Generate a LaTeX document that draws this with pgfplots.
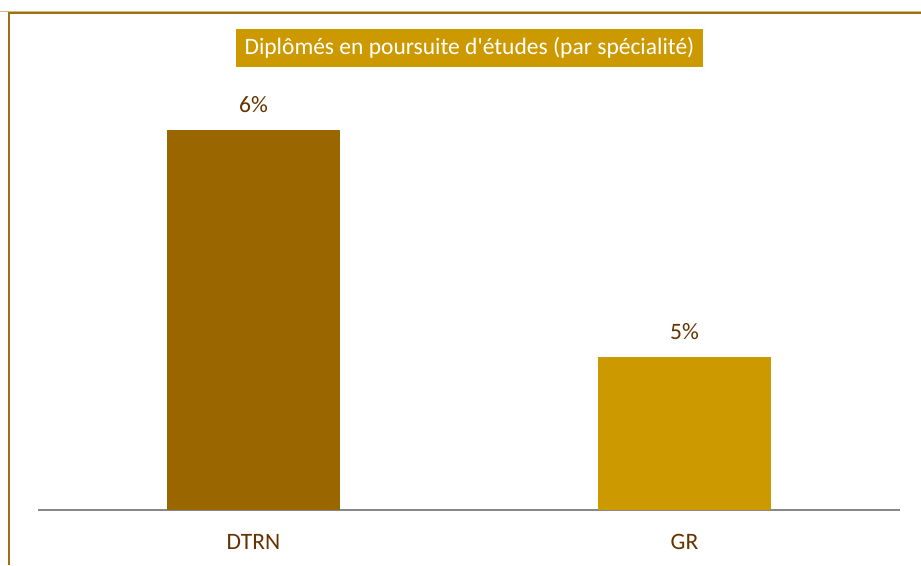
\documentclass[border=0pt]{standalone}
\usepackage{fontspec}
\setmainfont{Carlito}
\newfontfamily\plainfont{Carlito}
\usepackage{pgfplots}
\pgfplotsset{compat=1.18}
\definecolor{barDark}{HTML}{996600}
\definecolor{barGold}{HTML}{CC9900}
\definecolor{txtBrown}{HTML}{663300}
\definecolor{frameBrown}{HTML}{A07010}
\definecolor{baseGray}{HTML}{888888}

\begin{document}
\begin{tikzpicture}[x=1pt,y=1pt]
\useasboundingbox (0,0) rectangle (921,565);
\fill[white] (0,0) rectangle (921,565);
% outer frame (runs off the right and bottom edges)
\draw[frameBrown!50, line width=1pt] (0,553) -- (921,553);
\draw[frameBrown, line width=2pt] (8.5,0) -- (8.5,551.5) -- (921,551.5);

\begin{axis}[
    at={(38pt,55pt)}, anchor=south west,
    scale only axis, width=862pt, height=440pt,
    xmin=-0.5, xmax=1.5, ymin=4.326, ymax=6.264,
    ybar, bar width=173pt, bar shift=0pt,
    axis y line=none, axis x line*=bottom,
    x axis line style={baseGray, line width=1.5pt, -},
    major tick length=0pt,
    xtick={0,1}, xticklabels={DTRN, GR},
    xticklabel style={anchor=base, yshift=-39pt, text=txtBrown,
        font=\fontsize{23.5}{28}\selectfont},
    point meta=explicit symbolic,
    nodes near coords={\pgfplotspointmeta},
    every node near coord/.append style={anchor=base, inner sep=0pt,
        yshift=17pt, text=txtBrown, font=\fontsize{23.5}{28}\selectfont},
]
\addplot[draw=none, fill=barDark] coordinates {(0,6) [6\%]};
\addplot[draw=none, fill=barGold] coordinates {(1,5) [5\%]};
\end{axis}

\node[fill=barGold, text=white, inner xsep=9pt, minimum height=38pt,
      font=\plainfont\fontsize{23.5}{28}\selectfont] at (469.5,517)
      {Diplômés en poursuite d'études (par spécialité)};
\end{tikzpicture}
\end{document}
